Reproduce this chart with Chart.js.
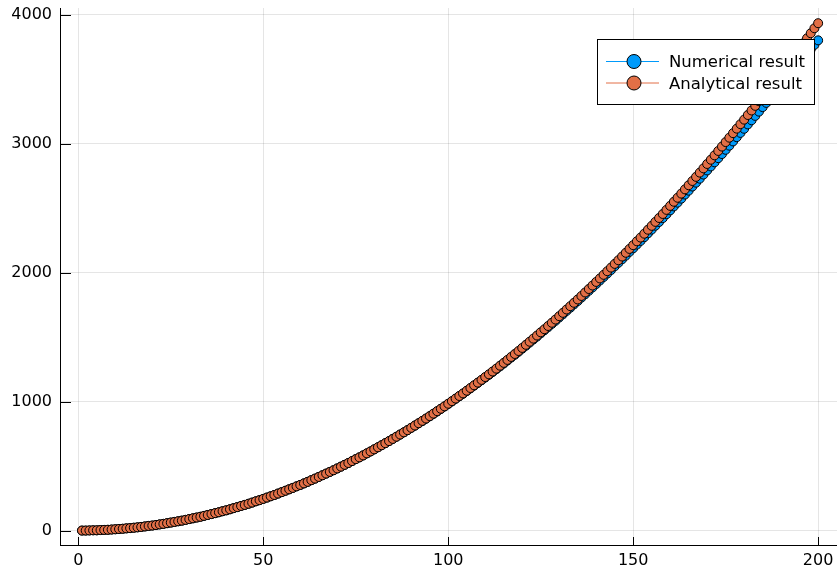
<!DOCTYPE html>
<html>
<head>
<meta charset="utf-8">
<script src="https://cdn.jsdelivr.net/npm/chart.js@4"></script>
<style>
html,body{margin:0;padding:0;background:#fff;}
#wrap{width:837px;height:569px;}
</style>
</head>
<body>
<div id="wrap"><canvas id="c" width="837" height="569"></canvas></div>
<script>
const xValues = [
1,2,3,4,5,6,7,8,9,10,11,12,13,14,15,16,17,18,19,20,
21,22,23,24,25,26,27,28,29,30,31,32,33,34,35,36,37,38,39,40,
41,42,43,44,45,46,47,48,49,50,51,52,53,54,55,56,57,58,59,60,
61,62,63,64,65,66,67,68,69,70,71,72,73,74,75,76,77,78,79,80,
81,82,83,84,85,86,87,88,89,90,91,92,93,94,95,96,97,98,99,100,
101,102,103,104,105,106,107,108,109,110,111,112,113,114,115,116,117,118,119,120,
121,122,123,124,125,126,127,128,129,130,131,132,133,134,135,136,137,138,139,140,
141,142,143,144,145,146,147,148,149,150,151,152,153,154,155,156,157,158,159,160,
161,162,163,164,165,166,167,168,169,170,171,172,173,174,175,176,177,178,179,180,
181,182,183,184,185,186,187,188,189,190,191,192,193,194,195,196,197,198,199,200
];
const analytical = [
0,0,1,2,2,4,5,6,8,10,
12,14,17,19,22,25,28,32,36,39,
43,48,52,57,62,67,72,77,83,89,
95,101,107,114,121,128,135,142,150,157,
165,174,182,191,199,208,217,227,236,246,
256,266,276,287,298,309,320,331,343,354,
366,378,391,403,416,429,442,455,468,482,
496,510,524,539,554,568,583,599,614,630,
646,662,678,694,711,728,745,762,779,797,
815,833,851,869,888,907,926,945,964,984,
1004,1024,1044,1064,1085,1106,1127,1148,1169,1191,
1212,1234,1256,1279,1301,1324,1347,1370,1393,1417,
1441,1465,1489,1513,1538,1562,1587,1612,1637,1663,
1689,1715,1741,1767,1793,1820,1847,1874,1901,1929,
1956,1984,2012,2040,2069,2097,2126,2155,2185,2214,
2244,2273,2303,2334,2364,2395,2425,2456,2488,2519,
2551,2582,2614,2647,2679,2712,2744,2777,2810,2844,
2877,2911,2945,2979,3014,3048,3083,3118,3153,3188,
3224,3259,3295,3331,3368,3404,3441,3478,3515,3552,
3590,3627,3665,3703,3742,3780,3819,3858,3897,3936
];
const numerical = [
0,0,1,2,2,4,5,6,8,10,
12,14,17,19,22,25,28,32,36,39,
43,48,52,57,62,67,72,77,83,89,
95,101,107,114,121,128,135,142,150,157,
165,174,182,191,199,208,217,227,236,246,
256,266,276,287,298,309,320,331,343,354,
366,378,391,403,416,429,442,455,468,482,
496,510,524,539,554,568,583,599,614,630,
646,662,678,694,711,728,745,762,779,797,
814,832,850,868,886,905,924,943,962,982,
1002,1022,1042,1061,1082,1103,1124,1145,1166,1187,
1208,1230,1252,1274,1296,1319,1342,1364,1387,1411,
1434,1458,1482,1505,1530,1554,1578,1603,1627,1653,
1678,1704,1729,1755,1780,1807,1833,1860,1886,1913,
1940,1967,1994,2021,2050,2077,2105,2133,2162,2190,
2219,2247,2276,2306,2335,2365,2394,2424,2454,2484,
2515,2544,2575,2607,2637,2669,2699,2730,2762,2794,
2825,2857,2889,2921,2954,2986,3019,3052,3085,3117,
3151,3183,3217,3250,3285,3318,3352,3386,3420,3454,
3489,3523,3558,3592,3628,3662,3698,3733,3768,3803
];
const xTicks = [0, 50, 100, 150, 200];
const yTicks = [0, 1000, 2000, 3000, 4000];
const seriesNames = ['Numerical result', 'Analytical result'];
const seriesColors = ['#009AFA', '#E26F46'];

const FONT = '"DejaVu Sans", sans-serif';

const toPts = (ys) => ys.map((y, i) => ({x: xValues[i], y: y}));

function zeroPad(s) { s.paddingLeft = 0; s.paddingRight = 0; s.paddingTop = 0; s.paddingBottom = 0; }

const legendAndTicks = {
  id: 'legendAndTicks',
  afterDraw(chart) {
    const ctx = chart.ctx;
    const xs = chart.scales.x, ys = chart.scales.y;
    const a = chart.chartArea;
    ctx.save();
    ctx.strokeStyle = '#000';
    ctx.lineWidth = 1;
    ctx.beginPath();
    xTicks.forEach(v => {
      const px = Math.round(xs.getPixelForValue(v)) + 0.5;
      ctx.moveTo(px, a.bottom);
      ctx.lineTo(px, a.bottom - 8);
    });
    yTicks.forEach(v => {
      const py = Math.round(ys.getPixelForValue(v)) + 0.5;
      ctx.moveTo(a.left, py);
      ctx.lineTo(a.left + 11, py);
    });
    ctx.stroke();

    // legend box
    const bx = 597.5, by = 39.5, bw = 217, bh = 65;
    ctx.fillStyle = '#fff';
    ctx.fillRect(bx, by, bw, bh);
    ctx.strokeStyle = '#000';
    ctx.strokeRect(bx, by, bw, bh);
    const rowsY = [61.5, 83];
    const baseY = [67.3, 89];
    seriesNames.forEach((name, i) => {
      const y = rowsY[i];
      ctx.strokeStyle = seriesColors[i];
      ctx.lineWidth = 1;
      ctx.beginPath();
      ctx.moveTo(606, y);
      ctx.lineTo(659, y);
      ctx.stroke();
      ctx.beginPath();
      ctx.arc(634, y, 7, 0, Math.PI * 2);
      ctx.fillStyle = seriesColors[i];
      ctx.fill();
      ctx.strokeStyle = '#000';
      ctx.stroke();
      ctx.fillStyle = '#000';
      ctx.font = '16.5px ' + FONT;
      ctx.textBaseline = 'alphabetic';
      ctx.textAlign = 'left';
      ctx.fillText(name, 669, baseY[i]);
    });
    ctx.restore();
  }
};

new Chart(document.getElementById('c'), {
  type: 'scatter',
  data: {
    datasets: [
      {
        label: seriesNames[0],
        data: toPts(numerical),
        showLine: true,
        borderColor: seriesColors[0],
        borderWidth: 1,
        backgroundColor: seriesColors[0],
        pointBackgroundColor: seriesColors[0],
        pointBorderColor: '#000',
        pointBorderWidth: 1,
        pointRadius: 4.5,
        order: 2
      },
      {
        label: seriesNames[1],
        data: toPts(analytical),
        showLine: true,
        borderColor: seriesColors[1],
        borderWidth: 1,
        backgroundColor: seriesColors[1],
        pointBackgroundColor: seriesColors[1],
        pointBorderColor: '#000',
        pointBorderWidth: 1,
        pointRadius: 4.5,
        order: 1
      }
    ]
  },
  options: {
    responsive: false,
    animation: false,
    events: [],
    layout: {autoPadding: false, padding: {top: 8, left: 0, right: 0, bottom: 0}},
    plugins: {legend: {display: false}, tooltip: {enabled: false}},
    scales: {
      x: {
        type: 'linear',
        min: -4.95,
        max: 205.1,
        afterFit(s) { s.height = 24; zeroPad(s); },
        afterBuildTicks(s) { s.ticks = xTicks.map(v => ({value: v})); },
        grid: {color: 'rgba(0,0,0,0.1)', drawTicks: false, lineWidth: 1},
        border: {display: true, color: '#000', width: 1},
        ticks: {color: '#000', padding: 6, font: {family: FONT, size: 16}, maxRotation: 0, autoSkip: false,
                callback: (v) => String(v)}
      },
      y: {
        type: 'linear',
        min: -112,
        max: 4054,
        afterFit(s) { s.width = 60; zeroPad(s); },
        afterBuildTicks(s) { s.ticks = yTicks.map(v => ({value: v})); },
        grid: {color: 'rgba(0,0,0,0.1)', drawTicks: false, lineWidth: 1},
        border: {display: true, color: '#000', width: 1},
        ticks: {color: '#000', padding: 8, font: {family: FONT, size: 16}, autoSkip: false,
                callback: (v) => String(v)}
      }
    }
  },
  plugins: [legendAndTicks]
});
</script>
</body>
</html>
